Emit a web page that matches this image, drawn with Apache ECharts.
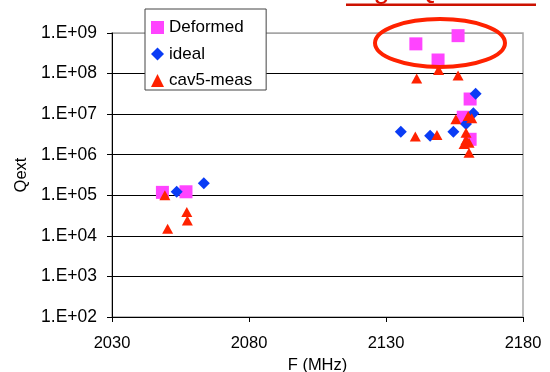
<!DOCTYPE html>
<html>
<head>
<meta charset="utf-8">
<script src="https://cdn.jsdelivr.net/npm/echarts@6/dist/echarts.min.js"></script>
<style>
html,body{margin:0;padding:0;background:#fff;}
#chart{width:550px;height:372px;}
</style>
</head>
<body>
<div id="chart"></div>
<script>
// ---- data ----
const seriesNames = ['Deformed', 'ideal', 'cav5-meas'];
const xTicks = [2030, 2080, 2130, 2180];
const yTickExponents = [2, 3, 4, 5, 6, 7, 8, 9];

const deformedF = [2048.4, 2057.0, 2140.9, 2156.3, 2149.0, 2160.7, 2158.2, 2160.7];
const deformedQ = [1.18e5, 1.22e5, 5.4e8, 8.6e8, 2.16e8, 2.36e7, 8.4e6, 2.4e6];

const idealF = [2053.6, 2063.5, 2135.4, 2146.1, 2154.6, 2159.2, 2161.9, 2162.7];
const idealQ = [1.22e5, 1.97e5, 3.7e6, 2.94e6, 3.7e6, 5.7e6, 1.05e7, 3.2e7];

const measF = [2049.3, 2057.3, 2057.5, 2050.3, 2141.2, 2149.2, 2156.3, 2140.7, 2148.6, 2155.5, 2160.0, 2161.3, 2159.2, 2159.2, 2158.5, 2160.3, 2160.3];
const measQ = [1.0e5, 3.9e4, 2.4e4, 1.5e4, 7.6e7, 1.22e8, 8.9e7, 2.8e6, 3.06e6, 7.5e6, 9.0e6, 7.9e6, 3.5e6, 2.3e6, 1.84e6, 1.98e6, 1.12e6];

const titleText = 'High-Q Modes';

// ---- chart ----
const FONT = 'Liberation Sans, Arial, sans-serif';
const pairs = (xs, ys) => xs.map((x, i) => [x, ys[i]]);
const chart = echarts.init(document.getElementById('chart'), null, {renderer: 'canvas'});

const option = {
  animation: false,
  backgroundColor: '#fff',
  grid: {left: 112, right: 27, top: 33, bottom: 55, containLabel: false, outerBoundsMode: 'none',
         show: true, borderColor: '#a6a6a6', borderWidth: 1.5, backgroundColor: 'transparent'},
  legend: {
    orient: 'vertical', left: 145, top: 9,
    padding: [10, 14, 1, 6], itemGap: 9.5, itemWidth: 13, itemHeight: 13,
    backgroundColor: '#fff', borderColor: '#444', borderWidth: 1,
    textStyle: {fontFamily: FONT, fontSize: 17, color: '#000', lineHeight: 14},
    data: [
      {name: seriesNames[0], icon: 'rect'},
      {name: seriesNames[1], icon: 'diamond'},
      {name: seriesNames[2], icon: 'triangle'}
    ]
  },
  xAxis: {
    type: 'value', min: xTicks[0], max: xTicks[xTicks.length - 1],
    name: 'F (MHz)', nameLocation: 'middle', nameGap: 36,
    nameTextStyle: {fontFamily: FONT, fontSize: 16.5, color: '#000'},
    axisLine: {show: true, lineStyle: {color: '#000', width: 1}},
    axisTick: {show: true, inside: false, length: 5, lineStyle: {color: '#000'}, customValues: xTicks},
    axisLabel: {fontFamily: FONT, fontSize: 16.5, color: '#000', margin: 18, customValues: xTicks, formatter: v => String(v)},
    splitLine: {show: false}
  },
  yAxis: {
    type: 'log', logBase: 10, min: Math.pow(10, yTickExponents[0]), max: Math.pow(10, yTickExponents[yTickExponents.length - 1]),
    name: 'Qext', nameLocation: 'middle', nameGap: 78, nameRotate: 90,
    nameTextStyle: {fontFamily: FONT, fontSize: 16.5, color: '#000'},
    axisLine: {show: true, lineStyle: {color: '#000', width: 1}},
    axisTick: {show: true, inside: false, length: 5, lineStyle: {color: '#000'}},
    axisLabel: {
      fontFamily: FONT, fontSize: 17.5, color: '#000', margin: 15,
      formatter: v => { const e = Math.round(Math.log10(v)); return '1.E+' + (e < 10 ? '0' + e : e); }
    },
    splitLine: {show: true, lineStyle: {color: ['#000', '#000', '#000', '#000', '#000', '#000', '#000', '#a6a6a6'], width: 1}}
  },
  series: [
    {name: seriesNames[0], type: 'scatter', symbol: 'rect', symbolSize: 13, itemStyle: {color: '#ff44ff', opacity: 1}, data: pairs(deformedF, deformedQ), z: 2},
    {name: seriesNames[1], type: 'scatter', symbol: 'diamond', symbolSize: 12, itemStyle: {color: '#0a3cf5', opacity: 1}, data: pairs(idealF, idealQ), z: 3},
    {name: seriesNames[2], type: 'scatter', symbol: 'triangle', symbolSize: [11, 10], itemStyle: {color: '#ff2200', opacity: 1}, data: pairs(measF, measQ), z: 4}
  ],
  graphic: [
    {type: 'text', left: 346, top: -25, style: {text: titleText, fontFamily: FONT, fontSize: 29, fill: '#dd1100'}, z: 10},
    {type: 'rect', shape: {x: 346, y: 3.5, width: 190, height: 2.5}, style: {fill: '#cc1100'}, z: 10},
    {type: 'ellipse', shape: {cx: 440, cy: 43, rx: 65, ry: 24}, style: {fill: 'none', stroke: '#ff2200', lineWidth: 4}, z: 10}
  ]
};
chart.setOption(option);
</script>
</body>
</html>
